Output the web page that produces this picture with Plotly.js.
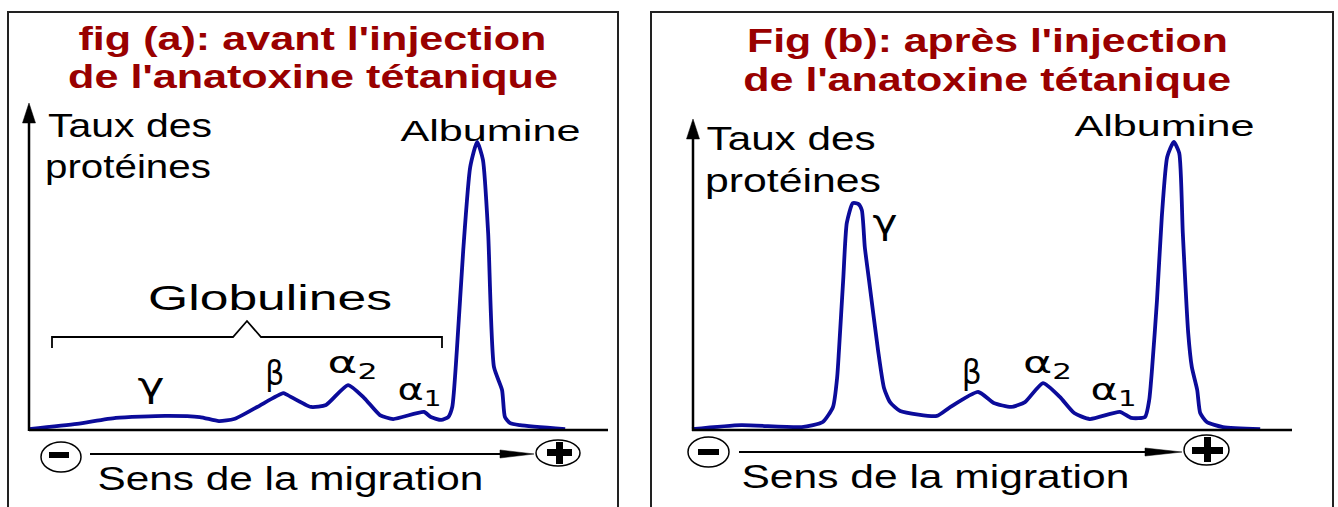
<!DOCTYPE html>
<html><head><meta charset="utf-8">
<script src="https://cdn.plot.ly/plotly-3.0.1.min.js"></script>
<style>html,body{margin:0;padding:0;background:#fff;overflow:hidden}</style>
</head><body>
<div id="chart" style="width:1338px;height:507px"></div>
<script>
// ---------- DATA ----------
// Panel (a): before injection — migration position (0 = cathode side) and protein level (albumin peak = 100)
const migA  = [0, 8.3, 15.0, 23.5, 29.5, 32.8, 35.4, 39.4, 43.9, 44.6, 48.7, 51.3, 55.1, 57.9, 60.6, 62.9, 68.2, 69.4, 71.2, 72.4, 73.1, 73.9, 75.0, 76.2, 77.4, 78.4, 79.3, 80.3, 81.7, 82.2, 83.1, 84.8, 92.6];
const tauxA = [0.3, 2.1, 4.2, 4.9, 4.5, 3.1, 3.8, 8.0, 12.8, 12.2, 8.0, 8.7, 15.6, 11.1, 5.2, 3.8, 6.3, 4.5, 3.5, 4.5, 8.0, 27.8, 62.5, 91.3, 100, 93.8, 68.4, 21.9, 13.9, 4.5, 2.4, 1.7, 0.3];
// Panel (b): after injection
const migB  = [0, 8.2, 18.3, 21.8, 23.5, 24.2, 24.5, 25.2, 25.8, 26.8, 27.7, 28.3, 28.8, 29.5, 31.0, 32.0, 33.0, 34.7, 40.8, 42.8, 47.7, 50.3, 53.2, 55.5, 58.5, 61.3, 63.7, 66.3, 71.3, 73.2, 75.5, 76.2, 76.7, 77.5, 78.3, 79.2, 80.3, 81.2, 81.8, 82.7, 83.3, 84.2, 84.7, 85.8, 88.5, 94.7];
const tauxB = [0.3, 1.7, 1.0, 2.8, 8.0, 18.4, 27.8, 52.1, 71.9, 78.8, 78.5, 76.4, 63.5, 52.1, 27.8, 14.6, 9.7, 6.6, 4.9, 7.6, 13.2, 9.4, 8.0, 9.7, 16.3, 11.5, 5.9, 3.8, 6.3, 4.2, 4.5, 10.4, 21.9, 45.1, 74.0, 94.8, 100, 96.2, 68.4, 33.7, 21.9, 13.9, 5.9, 2.8, 1.0, 0.3];

const titlesA = ["fig (a): avant l'injection", "de l'anatoxine tétanique"];
const titlesB = ["Fig (b): après l'injection", "de l'anatoxine tétanique"];
const yLabel = ["Taux des", "protéines"];
const xLabel = "Sens de la migration";
const peakLabels = ["γ", "β", "α<sub>2</sub>", "α<sub>1</sub>"];
const albLabel = "Albumine";
const globLabel = "Globulines";

// ---------- LAYOUT HELPERS ----------
const W = 1338, H = 507;
const PX = p => p / W, PY = p => 1 - p / H;
const CURVE = '#0b0b9a', RED = '#990000';
const FONT = 'Liberation Sans, Arial, sans-serif', GREEK = 'DejaVu Sans, Liberation Sans, sans-serif';

function panel(px0, px100, py0, py100, xr, yr) {
  const kx = (px100 - px0) / 100, ky = (py0 - py100) / 100;
  return {
    x: [PX(px0 + xr[0] * kx), PX(px0 + xr[1] * kx)],
    y: [PY(py0 - yr[0] * ky), PY(py0 - yr[1] * ky)]
  };
}
const XR = [-3, 103], YR = [-3, 106];
const pA = panel(29, 608, 430, 142, XR, YR);
const pB = panel(692, 1292, 430, 142, XR, YR);

const traces = [
  {x: migA, y: tauxA, xaxis: 'x', yaxis: 'y', type: 'scatter', mode: 'lines',
   line: {color: CURVE, width: 3.8, shape: 'spline', smoothing: 0.55}, hoverinfo: 'skip'},
  {x: migB, y: tauxB, xaxis: 'x2', yaxis: 'y2', type: 'scatter', mode: 'lines',
   line: {color: CURVE, width: 3.8, shape: 'spline', smoothing: 0.55}, hoverinfo: 'skip'}
];

const shapes = [];
const pline = (x0, y0, x1, y1, w, c) => shapes.push({type: 'line', xref: 'paper', yref: 'paper',
  x0: PX(x0), y0: PY(y0), x1: PX(x1), y1: PY(y1), line: {color: c || '#000', width: w}});
const ppath = (pts, fill, w) => shapes.push({type: 'path', xref: 'paper', yref: 'paper',
  path: 'M ' + pts.map(p => PX(p[0]).toFixed(5) + ' ' + PY(p[1]).toFixed(5)).join(' L ') + (fill ? ' Z' : ''),
  fillcolor: fill || 'rgba(0,0,0,0)', line: {color: '#000', width: w}});
const pell = (x0, y0, x1, y1, w) => shapes.push({type: 'circle', xref: 'paper', yref: 'paper',
  x0: PX(x0), y0: PY(y0), x1: PX(x1), y1: PY(y1), line: {color: '#000', width: w}});
const prect = (x0, y0, x1, y1) => shapes.push({type: 'rect', xref: 'paper', yref: 'paper',
  x0: PX(x0), y0: PY(y0), x1: PX(x1), y1: PY(y1), fillcolor: '#000', line: {width: 0}});

// panel borders
pline(8, 12, 8, 510, 2, '#222'); pline(7, 12, 619, 12, 2, '#222'); pline(618, 12, 618, 510, 2, '#222');
pline(651, 12, 651, 510, 2, '#222'); pline(650, 12, 1334, 12, 2, '#222'); pline(1333, 12, 1333, 510, 2, '#222');

// axes (in data coordinates)
shapes.push({type: 'line', xref: 'x', yref: 'y', x0: 0, y0: 0, x1: 100, y1: 0, line: {color: '#000', width: 2.5}});
shapes.push({type: 'line', xref: 'x2', yref: 'y2', x0: 0, y0: 0, x1: 100, y1: 0, line: {color: '#000', width: 2.5}});
pline(29, 431, 29, 118, 2.5); ppath([[22.5, 123], [29, 103], [35.5, 123]], '#000', 0.5);
pline(693, 431, 693, 134, 2.5); ppath([[686.5, 139], [693, 119], [699.5, 139]], '#000', 0.5);

// brace for globulines
ppath([[52, 348], [52, 337], [233, 337], [247, 321], [261, 337], [442, 337], [442, 348]], null, 1.8);

// migration arrows with - and + poles
pline(90, 454, 505, 454, 2); ppath([[500, 450], [534, 454], [500, 458]], '#000', 0.5);
pell(41, 442, 81, 472, 1.5); prect(49, 452, 69, 458);
pell(536, 440, 580, 466, 1.5); prect(547, 449, 572, 456); prect(556, 442, 563, 464);

pline(739, 452, 1150, 452, 2); ppath([[1145, 448], [1182, 452], [1145, 456]], '#000', 0.5);
pell(688, 437, 729, 467, 1.5); prect(698, 449, 719, 455);
pell(1184, 435, 1229, 465, 1.5); prect(1192, 447, 1223, 454); prect(1204, 437, 1211, 462);

// ---------- TEXT ----------
const labels = [
  {t: titlesA[0], x: 312, y: 38, s: 34, w: 468, b: true, c: RED},
  {t: titlesA[1], x: 313, y: 76, s: 34, w: 490, b: true, c: RED},
  {t: yLabel[0], x: 130, y: 125, s: 34, w: 164},
  {t: yLabel[1], x: 128, y: 166, s: 34, w: 166},
  {t: albLabel, x: 490, y: 131, s: 29, w: 180},
  {t: globLabel, x: 270, y: 297, s: 36, w: 244},
  {t: peakLabels[0], x: 151, y: 385, s: 34, w: 27, g: true},
  {t: peakLabels[1], x: 275, y: 373, s: 34, w: 19, g: true},
  {t: peakLabels[2], x: 352, y: 364, s: 30, w: 50, g: true},
  {t: peakLabels[3], x: 419, y: 391, s: 30, w: 44, g: true},
  {t: xLabel, x: 290, y: 478, s: 33, w: 386},

  {t: titlesB[0], x: 987, y: 41, s: 33, w: 481, b: true, c: RED},
  {t: titlesB[1], x: 988, y: 79, s: 33, w: 488, b: true, c: RED},
  {t: yLabel[0], x: 791, y: 138, s: 34, w: 169},
  {t: yLabel[1], x: 793, y: 180, s: 34, w: 176},
  {t: albLabel, x: 1164, y: 126, s: 29, w: 180},
  {t: peakLabels[0], x: 885, y: 222, s: 34, w: 25, g: true},
  {t: peakLabels[1], x: 972, y: 372, s: 34, w: 20, g: true},
  {t: peakLabels[2], x: 1047, y: 364, s: 30, w: 49, g: true},
  {t: peakLabels[3], x: 1113, y: 391, s: 30, w: 46, g: true},
  {t: xLabel, x: 935, y: 476, s: 33, w: 388}
];
const annotations = labels.map(l => ({
  text: l.t, xref: 'paper', yref: 'paper', x: PX(l.x), y: PY(l.y), xanchor: 'center', yanchor: 'middle',
  showarrow: false, borderpad: 0,
  font: {family: l.g ? GREEK : FONT, size: l.s, color: l.c || '#000', weight: l.b ? 700 : 400}
}));

const axisCommon = {visible: false, fixedrange: true, showgrid: false, zeroline: false};
const layout = {
  width: W, height: H, margin: {l: 0, r: 0, t: 0, b: 0},
  paper_bgcolor: '#fff', plot_bgcolor: 'rgba(0,0,0,0)', showlegend: false,
  xaxis: Object.assign({domain: pA.x, range: XR, anchor: 'y'}, axisCommon),
  yaxis: Object.assign({domain: pA.y, range: YR, anchor: 'x'}, axisCommon),
  xaxis2: Object.assign({domain: pB.x, range: XR, anchor: 'y2'}, axisCommon),
  yaxis2: Object.assign({domain: pB.y, range: YR, anchor: 'x2'}, axisCommon),
  shapes: shapes, annotations: annotations
};

const gd = document.getElementById('chart');
Plotly.newPlot(gd, traces, layout, {staticPlot: true, displayModeBar: false}).then(() => {
  // the reference lettering is horizontally stretched: widen each label to its measured width
  gd.querySelectorAll('g.annotation').forEach(g => {
    const i = +g.getAttribute('data-index');
    const target = labels[i] && labels[i].w;
    if (!target) return;
    const t = g.querySelector('text.annotation-text');
    const bb = t.getBBox();
    if (!bb.width) return;
    const k = target / bb.width, cx = bb.x + bb.width / 2;
    t.setAttribute('transform', `translate(${cx},0) scale(${k},1) translate(${-cx},0)`);
  });
});
</script>
</body></html>
